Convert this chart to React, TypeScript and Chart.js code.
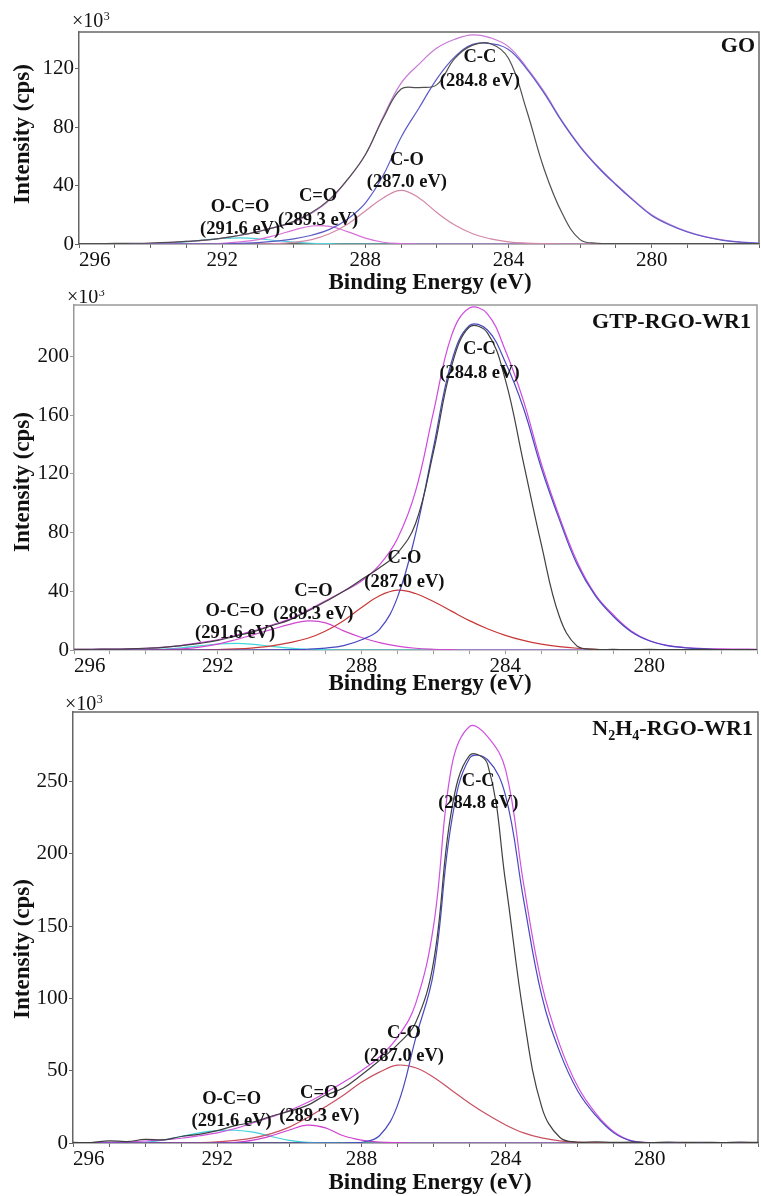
import React, { useEffect, useRef } from "react";
import { Chart, registerables } from "chart.js";

Chart.register(...registerables);

const SERIF = "'Liberation Serif', 'Times New Roman', Times, serif";
const X_AXIS_H = 30;

// Binding energy grid (eV)
const energy = [296, 295.5, 295, 294.5, 294, 293.5, 293, 292.5, 292, 291.5, 291, 290.5, 290, 289.5, 289, 288.5, 288, 287.5, 287, 286.5, 286, 285.5, 285, 284.5, 284, 283.5, 283, 282.5, 282, 281.5, 281, 280.5, 280, 279.5, 279, 278.5, 278, 277.5, 277];

// x ticks (every 1 eV, labels every 4 eV)
const xTickPositions = [277, 278, 279, 280, 281, 282, 283, 284, 285, 286, 287, 288, 289, 290, 291, 292, 293, 294, 295, 296];
const xTickLabels = [280, 284, 288, 292, 296];

// y ticks (x10^3 cps)
const goYTicks = [0, 40, 80, 120];
const gtpYTicks = [0, 40, 80, 120, 160, 200];
const n2h4YTicks = [0, 50, 100, 150, 200, 250];

// ---------- GO ----------
const goRaw = [0.3, 0.3, 0.4, 0.5, 0.7, 1.1, 1.8, 2.6, 4, 6, 8.5, 11.5, 15.5, 21.5, 30.5, 44, 61, 86, 106, 107, 109, 127, 136, 137, 127, 92, 51, 21, 3, 0.5, 0.3, 0.2, 0.2, 0.2, 0.2, 0.2, 0.2, 0.2, 0.2];
const goEnvelope = [0, 0, 0, 0.2, 0.5, 1, 1.8, 2.5, 4, 6, 8.5, 11.5, 15, 21, 30, 44, 61, 87, 110, 123, 134, 140, 143, 141, 135, 121, 104, 84, 67, 53, 41, 30, 20, 13.5, 8.5, 5, 2.7, 1.3, 0.6];
const goCC = [0, 0, 0, 0, 0, 0, 0, 0, 0, 0.5, 1, 2, 3.5, 6, 10, 17, 28, 47, 73, 93, 113, 128, 136.5, 137, 133, 120, 103, 83.5, 66.5, 52.5, 40.5, 29.5, 19.5, 13, 8.2, 4.8, 2.5, 1.2, 0.5];
const goCO = [0, 0, 0, 0, 0, 0, 0, 0, 0, 0, 0, 0.3, 1.2, 3, 7, 13.5, 22.5, 31.5, 36.7, 31.5, 21.5, 13, 7, 3.5, 1.5, 0.6, 0.2, 0, 0, 0, 0, 0, 0, 0, 0, 0, 0, 0, 0];
const goCdO = [0, 0, 0, 0, 0, 0, 0, 0, 0.5, 1.5, 3, 6, 9.5, 12.3, 12, 8.5, 4, 1.2, 0.3, 0, 0, 0, 0, 0, 0, 0, 0, 0, 0, 0, 0, 0, 0, 0, 0, 0, 0, 0, 0];
const goOCdO = [0, 0, 0, 0, 0.2, 0.6, 1.5, 2.8, 3.8, 4.2, 3.6, 2.4, 1.3, 0.5, 0.2, 0, 0, 0, 0, 0, 0, 0, 0, 0, 0, 0, 0, 0, 0, 0, 0, 0, 0, 0, 0, 0, 0, 0, 0];

// ---------- GTP-RGO-WR1 ----------
const gtpRaw = [0.5, 0.5, 0.6, 0.8, 1.2, 1.8, 3, 4.5, 6.5, 9.5, 12.5, 16.5, 20.5, 26.5, 33, 40, 48, 56, 66, 86, 135, 193, 220, 216, 184, 128, 72, 23, 2.5, 0.5, 0.4, 0.3, 0.4, 0.3, 0.3, 0.4, 0.3, 0.3, 0.3];
const gtpEnvelope = [0.5, 0.5, 0.6, 0.8, 1.2, 2, 3.2, 5, 7, 10, 13, 17, 21, 27, 33.5, 40, 47, 58, 76, 108, 162, 214, 233, 229, 204, 170, 127, 91, 60, 38, 24, 13, 6.5, 3.2, 1.7, 1, 0.7, 0.6, 0.5];
const gtpCC = [0, 0, 0, 0, 0, 0, 0, 0, 0, 0, 0, 0.1, 0.2, 0.5, 1.3, 3, 7, 14, 36, 79, 138, 196, 221, 218, 196, 165, 124, 89, 58, 37, 23, 12.5, 6.3, 3, 1.5, 0.7, 0.3, 0.1, 0];
const gtpCO = [0, 0, 0, 0, 0, 0, 0, 0, 0.3, 0.7, 1.5, 2.8, 5, 8, 13, 20, 29, 37, 40.8, 38.5, 33, 26.5, 20, 14.5, 10, 6.5, 4, 2.3, 1.2, 0.5, 0.2, 0, 0, 0, 0, 0, 0, 0, 0];
const gtpCdO = [0, 0, 0, 0, 0, 0.3, 0.8, 2, 4, 7, 10.5, 14, 17.5, 19.8, 18.5, 13, 8.5, 5, 2.7, 1.2, 0.5, 0.2, 0, 0, 0, 0, 0, 0, 0, 0, 0, 0, 0, 0, 0, 0, 0, 0, 0];
const gtpOCdO = [0, 0, 0, 0, 0.2, 0.6, 1.5, 2.8, 4, 4.5, 3.8, 2.5, 1.3, 0.5, 0.2, 0, 0, 0, 0, 0, 0, 0, 0, 0, 0, 0, 0, 0, 0, 0, 0, 0, 0, 0, 0, 0, 0, 0, 0];

// ---------- N2H4-RGO-WR1 ----------
const n2h4Raw = [0.5, 0.3, 1.5, 1, 2.5, 2.2, 4.5, 6, 8.5, 12, 14.5, 18.5, 22, 26, 33, 38, 47, 57, 68, 83, 125, 230, 268, 262, 180, 88, 25, 4, 0.5, 0.8, 0.4, 0.6, 0.3, 0.6, 0.4, 0.5, 0.3, 0.6, 0.4];
const n2h4Envelope = [0.1, 0.2, 0.4, 0.8, 1.4, 2.2, 3.3, 5, 7, 10, 14, 18, 22.5, 28, 34.7, 42, 50, 59.5, 73, 96, 150, 260, 288, 281, 258, 179, 110, 68, 39, 20.5, 7.8, 1.5, 0.3, 0.2, 0.2, 0.1, 0.1, 0.1, 0.1];
const n2h4CC = [0, 0, 0, 0, 0, 0, 0, 0, 0, 0, 0, 0, 0, 0, 0, 0, 0.5, 5, 26, 72, 118, 222, 266, 265, 240, 168, 102, 63, 36, 19, 7, 1.3, 0.2, 0, 0, 0, 0, 0, 0];
const n2h4CO = [0, 0, 0, 0, 0, 0, 0.1, 0.3, 0.8, 1.8, 3.5, 6.5, 11, 17.5, 25, 33, 42, 49, 53.8, 52, 45.5, 36.5, 27.5, 19.5, 12.5, 7, 3.5, 1.5, 0.6, 0.2, 0, 0, 0, 0, 0, 0, 0, 0, 0];
const n2h4CdO = [0, 0, 0, 0, 0, 0, 0, 0, 0, 0.5, 2, 5, 9, 12.3, 10.5, 5, 2, 0.7, 0.2, 0, 0, 0, 0, 0, 0, 0, 0, 0, 0, 0, 0, 0, 0, 0, 0, 0, 0, 0, 0];
const n2h4OCdO = [0, 0, 0, 0, 0.5, 2, 4.5, 7, 8.5, 8.8, 7.5, 4.5, 1.8, 0.5, 0.1, 0, 0, 0, 0, 0, 0, 0, 0, 0, 0, 0, 0, 0, 0, 0, 0, 0, 0, 0, 0, 0, 0, 0, 0];

// Peak annotations
const goLabels = [
  { name: "C-C", pos: "(284.8 eV)", e: 284.8, nameY: 127.5, posY: 111 },
  { name: "C-O", pos: "(287.0 eV)", e: 286.84, nameY: 57.6, posY: 42 },
  { name: "C=O", pos: "(289.3 eV)", e: 289.32, nameY: 33, posY: 16.3 },
  { name: "O-C=O", pos: "(291.6 eV)", e: 291.5, nameY: 25, posY: 10 },
];
const gtpLabels = [
  { name: "C-C", pos: "(284.8 eV)", e: 284.72, nameY: 204.8, posY: 188.4 },
  { name: "C-O", pos: "(287.0 eV)", e: 286.81, nameY: 62.6, posY: 46.3 },
  { name: "C=O", pos: "(289.3 eV)", e: 289.34, nameY: 40, posY: 24.5 },
  { name: "O-C=O", pos: "(291.6 eV)", e: 291.52, nameY: 26.5, posY: 11.6 },
];
const n2h4Labels = [
  { name: "C-C", pos: "(284.8 eV)", e: 284.76, nameY: 250, posY: 234.8 },
  { name: "C-O", pos: "(287.0 eV)", e: 286.82, nameY: 76, posY: 60 },
  { name: "C=O", pos: "(289.3 eV)", e: 289.17, nameY: 34.5, posY: 18.6 },
  { name: "O-C=O", pos: "(291.6 eV)", e: 291.6, nameY: 30.4, posY: 15.2 },
];

type Part = { t: string; sub?: boolean };

const panels = [
  {
    key: "go",
    top: 0, height: 298,
    area: { left: 79, right: 759, top: 32, bottom: 244 },
    yMax: 145, yTicks: goYTicks,
    boxColor: "#666",
    nameParts: [{ t: "GO" }] as Part[], nameRight: 755, nameBaseline: 52,
    x10: { x: 72, baseline: 27 },
    xTitleBaseline: 289, yTitleCenter: 134,
    labels: goLabels,
    series: [
      { label: "Raw", values: goRaw, color: "#505050" },
      { label: "C-C", values: goCC, color: "#5a5ac8" },
      { label: "Envelope", values: goEnvelope, color: "#c878d8" },
      { label: "C-O", values: goCO, color: "#d487a8" },
      { label: "C=O", values: goCdO, color: "#d870d8" },
      { label: "O-C=O", values: goOCdO, color: "#50d0d8" },
    ],
  },
  {
    key: "gtp",
    top: 290, height: 408,
    area: { left: 74, right: 757, top: 305, bottom: 650 },
    yMax: 235, yTicks: gtpYTicks,
    boxColor: "#999",
    nameParts: [{ t: "GTP-RGO-WR1" }] as Part[], nameRight: 751, nameBaseline: 328,
    x10: { x: 67, baseline: 303 },
    xTitleBaseline: 690, yTitleCenter: 482,
    labels: gtpLabels,
    series: [
      { label: "Raw", values: gtpRaw, color: "#404040" },
      { label: "C-C", values: gtpCC, color: "#4848c0" },
      { label: "Envelope", values: gtpEnvelope, color: "#d048e0" },
      { label: "C-O", values: gtpCO, color: "#c83838" },
      { label: "C=O", values: gtpCdO, color: "#d048d0" },
      { label: "O-C=O", values: gtpOCdO, color: "#40d8d8" },
    ],
  },
  {
    key: "n2h4",
    top: 692, height: 504,
    area: { left: 73, right: 758, top: 712, bottom: 1143 },
    yMax: 298, yTicks: n2h4YTicks,
    boxColor: "#666",
    nameParts: [{ t: "N" }, { t: "2", sub: true }, { t: "H" }, { t: "4", sub: true }, { t: "-RGO-WR1" }] as Part[],
    nameRight: 753, nameBaseline: 735,
    x10: { x: 65, baseline: 710 },
    xTitleBaseline: 1189, yTitleCenter: 949,
    labels: n2h4Labels,
    series: [
      { label: "Raw", values: n2h4Raw, color: "#404040" },
      { label: "C-C", values: n2h4CC, color: "#4848c0" },
      { label: "Envelope", values: n2h4Envelope, color: "#d050e0" },
      { label: "C-O", values: n2h4CO, color: "#c85060" },
      { label: "C=O", values: n2h4CdO, color: "#d040d0" },
      { label: "O-C=O", values: n2h4OCdO, color: "#40d0d8" },
    ],
  },
];

const decorPlugin = {
  id: "decor",
  beforeDatasetsDraw(chart: any, _args: any, opts: any) {
    const { ctx, chartArea: a } = chart;
    ctx.save();
    ctx.strokeStyle = opts.boxColor;
    ctx.lineWidth = 1.5;
    ctx.beginPath();
    ctx.moveTo(a.left, a.top);
    ctx.lineTo(a.right, a.top);
    ctx.lineTo(a.right, a.bottom);
    ctx.stroke();
    ctx.restore();
  },
  afterDraw(chart: any, _args: any, opts: any) {
    const { ctx, scales } = chart;
    const xs = scales.x;
    const ys = scales.y;
    const off = opts.top;
    ctx.save();
    ctx.fillStyle = "#111";

    // peak labels
    ctx.textAlign = "center";
    ctx.textBaseline = "middle";
    ctx.font = `bold 18.5px ${SERIF}`;
    for (const lb of opts.labels) {
      const px = xs.getPixelForValue(lb.e);
      ctx.fillText(lb.name, px, ys.getPixelForValue(lb.nameY));
      ctx.fillText(lb.pos, px, ys.getPixelForValue(lb.posY));
    }

    // sample name (right aligned, with subscripts)
    ctx.textAlign = "left";
    ctx.textBaseline = "alphabetic";
    const mainFont = `bold 22px ${SERIF}`;
    const subFont = `bold 14px ${SERIF}`;
    let total = 0;
    for (const p of opts.nameParts as Part[]) {
      ctx.font = p.sub ? subFont : mainFont;
      total += ctx.measureText(p.t).width;
    }
    let nx = opts.nameRight - total;
    for (const p of opts.nameParts as Part[]) {
      ctx.font = p.sub ? subFont : mainFont;
      ctx.fillText(p.t, nx, opts.nameBaseline - off + (p.sub ? 5 : 0));
      nx += ctx.measureText(p.t).width;
    }

    // x10^3 multiplier
    ctx.font = `20px ${SERIF}`;
    const bx = opts.x10.x;
    const bb = opts.x10.baseline - off;
    ctx.fillText("×10", bx, bb);
    const w10 = ctx.measureText("×10").width;
    ctx.font = `12px ${SERIF}`;
    ctx.fillText("3", bx + w10 + 0.5, bb - 7);

    // x axis title
    ctx.font = `bold 23px ${SERIF}`;
    ctx.textAlign = "center";
    ctx.fillText("Binding Energy (eV)", 430, opts.xTitleBaseline - off);

    // y axis title
    ctx.save();
    ctx.translate(23, opts.yTitleCenter - off);
    ctx.rotate(-Math.PI / 2);
    ctx.textBaseline = "middle";
    ctx.fillText("Intensity (cps)", 0, 0);
    ctx.restore();

    ctx.restore();
  },
};

function PanelChart({ p }: { p: (typeof panels)[number] }) {
  const ref = useRef<HTMLCanvasElement>(null);
  useEffect(() => {
    const canvas = ref.current;
    if (!canvas) return;
    const chart = new Chart(canvas, {
      type: "line",
      data: {
        datasets: p.series.map((s) => ({
          label: s.label,
          data: energy.map((e, i) => ({ x: e, y: s.values[i] })),
          borderColor: s.color,
          backgroundColor: s.color,
          borderWidth: 1.2,
          pointRadius: 0,
          pointHoverRadius: 0,
          fill: false,
          tension: 0.4,
        })),
      },
      options: {
        animation: false,
        responsive: false,
        maintainAspectRatio: false,
        devicePixelRatio: 1,
        events: [],
        layout: {
          padding: {
            left: 0,
            right: 761 - p.area.right,
            top: p.area.top - p.top,
            bottom: p.height - (p.area.bottom - p.top) - X_AXIS_H,
          },
        },
        plugins: {
          legend: { display: false },
          tooltip: { enabled: false },
          decor: {
            top: p.top,
            boxColor: p.boxColor,
            labels: p.labels,
            nameParts: p.nameParts,
            nameRight: p.nameRight,
            nameBaseline: p.nameBaseline,
            x10: p.x10,
            xTitleBaseline: p.xTitleBaseline,
            yTitleCenter: p.yTitleCenter,
          },
        } as any,
        scales: {
          x: {
            type: "linear",
            reverse: true,
            min: 277,
            max: 296,
            afterBuildTicks: (s: any) => {
              s.ticks = xTickPositions.map((v) => ({ value: v }));
            },
            afterFit: (s: any) => {
              s.height = X_AXIS_H;
            },
            ticks: {
              autoSkip: false,
              maxRotation: 0,
              minRotation: 0,
              align: "inner",
              padding: 0,
              color: "#111",
              font: { family: SERIF, size: 21 },
              callback: (v: any) => (xTickLabels.includes(Number(v)) ? String(v) : ""),
            },
            grid: {
              display: true,
              drawOnChartArea: false,
              drawTicks: true,
              tickLength: 4,
              color: p.boxColor,
              lineWidth: 1,
            },
            border: { display: true, color: p.boxColor, width: 1.5 },
          },
          y: {
            type: "linear",
            min: 0,
            max: p.yMax,
            afterBuildTicks: (s: any) => {
              s.ticks = p.yTicks.map((v) => ({ value: v }));
            },
            afterFit: (s: any) => {
              s.width = p.area.left;
            },
            ticks: {
              padding: 1,
              color: "#111",
              font: { family: SERIF, size: 21 },
            },
            grid: {
              display: true,
              drawOnChartArea: false,
              drawTicks: true,
              tickLength: 4,
              color: p.boxColor,
              lineWidth: 1,
            },
            border: { display: true, color: p.boxColor, width: 1.5 },
          },
        } as any,
      },
      plugins: [decorPlugin as any],
    });
    return () => chart.destroy();
  }, [p]);

  return (
    <canvas
      ref={ref}
      width={761}
      height={p.height}
      style={{ position: "absolute", left: 0, top: p.top, width: 761, height: p.height }}
    />
  );
}

export default function App() {
  return (
    <div style={{ position: "absolute", left: 0, top: 0, width: 761, height: 1196, background: "#fff", overflow: "hidden" }}>
      {panels.map((p) => (
        <PanelChart key={p.key} p={p} />
      ))}
    </div>
  );
}
